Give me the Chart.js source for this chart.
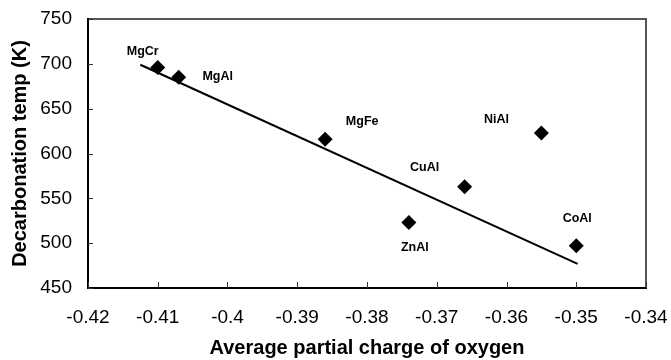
<!DOCTYPE html>
<html>
<head>
<meta charset="utf-8">
<script src="https://cdn.jsdelivr.net/npm/chart.js@4.4.0/dist/chart.umd.min.js"></script>
<style>
  html, body { margin: 0; padding: 0; background: #fff; }
  #wrap { width: 671px; height: 360px; }
</style>
</head>
<body>
<div id="wrap"><canvas id="chart"></canvas></div>
<script>
// catalyst names and values
const catalysts = ['MgCr', 'MgAl', 'MgFe', 'NiAl', 'CuAl', 'ZnAl', 'CoAl'];
const partialCharge = [-0.410, -0.407, -0.386, -0.355, -0.366, -0.374, -0.350];
const decarbTemp = [696, 685, 616, 623, 563, 523, 497];

// fitted line end points
const trendX = [-0.4125, -0.3498];
const trendY = [699, 477];

// label placement relative to each marker (pixels)
const labelOffsets = [[-15, -16], [39, -1], [37, -18], [-45, -13], [-40, -19], [6, 25], [1, -27]];

const fontFamily = '"Liberation Sans", Arial, sans-serif';

// grey frame behind the black axis lines
const framePlugin = {
    id: 'frame',
    beforeDraw(chart) {
        const { ctx, chartArea: a } = chart;
        ctx.save();
        ctx.strokeStyle = '#555';
        ctx.lineWidth = 2;
        ctx.strokeRect(a.left, a.top, a.right - a.left, a.bottom - a.top);
        ctx.restore();
    }
};

// small tick marks pointing into the plot
const innerTicks = {
    id: 'innerTicks',
    afterDraw(chart) {
        const { ctx, chartArea: a, scales } = chart;
        ctx.save();
        ctx.strokeStyle = '#333';
        ctx.lineWidth = 1;
        ctx.beginPath();
        scales.x.ticks.forEach(t => {
            const px = Math.round(scales.x.getPixelForValue(t.value)) + 0.5;
            ctx.moveTo(px, a.bottom);
            ctx.lineTo(px, a.bottom - 6);
        });
        scales.y.ticks.forEach(t => {
            const py = Math.round(scales.y.getPixelForValue(t.value)) + 0.5;
            ctx.moveTo(a.left, py);
            ctx.lineTo(a.left + 5, py);
        });
        ctx.stroke();
        ctx.restore();
    }
};

// catalyst names beside the markers
const pointLabels = {
    id: 'pointLabels',
    afterDatasetsDraw(chart) {
        const { ctx, scales } = chart;
        ctx.save();
        ctx.fillStyle = '#000';
        ctx.font = 'bold 12.5px ' + fontFamily;
        ctx.textAlign = 'center';
        ctx.textBaseline = 'middle';
        catalysts.forEach((name, i) => {
            const px = scales.x.getPixelForValue(partialCharge[i]);
            const py = scales.y.getPixelForValue(decarbTemp[i]);
            ctx.fillText(name, px + labelOffsets[i][0], py + labelOffsets[i][1]);
        });
        ctx.restore();
    }
};

new Chart(document.getElementById('chart'), {
    type: 'scatter',
    data: {
        datasets: [
            {
                type: 'line',
                data: trendX.map((x, i) => ({ x: x, y: trendY[i] })),
                borderColor: '#000',
                borderWidth: 2,
                pointRadius: 0,
                fill: false
            },
            {
                data: partialCharge.map((x, i) => ({ x: x, y: decarbTemp[i] })),
                pointStyle: 'rectRot',
                pointRadius: 7.5,
                backgroundColor: '#000',
                borderColor: '#000',
                borderWidth: 0
            }
        ]
    },
    plugins: [framePlugin, innerTicks, pointLabels],
    options: {
        responsive: true,
        maintainAspectRatio: false,
        animation: false,
        layout: { padding: { top: 19, right: 25, left: 0, bottom: 0 } },
        plugins: {
            legend: { display: false },
            tooltip: { enabled: false }
        },
        scales: {
            x: {
                type: 'linear',
                min: -0.42,
                max: -0.34,
                afterFit(scale) {
                    scale.height = 72;
                    scale.paddingLeft = 0;
                    scale.paddingRight = 0;
                },
                ticks: {
                    stepSize: 0.01,
                    color: '#000',
                    padding: 18,
                    maxRotation: 0,
                    font: { family: fontFamily, size: 19 },
                    callback: v => parseFloat(v.toFixed(2)).toString()
                },
                grid: { display: false, drawTicks: false },
                border: { display: true, color: '#000', width: 2 },
                title: {
                    display: true,
                    text: 'Average partial charge of oxygen',
                    color: '#000',
                    font: { family: fontFamily, size: 20, weight: 'bold' },
                    padding: { top: 0, bottom: 0 }
                }
            },
            y: {
                min: 450,
                max: 750,
                afterFit(scale) {
                    scale.width = 88;
                    scale.paddingTop = 0;
                    scale.paddingBottom = 0;
                },
                ticks: {
                    stepSize: 50,
                    color: '#000',
                    padding: 16,
                    font: { family: fontFamily, size: 19 }
                },
                grid: { display: false, drawTicks: false },
                border: { display: true, color: '#000', width: 2 },
                title: {
                    display: true,
                    text: 'Decarbonation temp (K)',
                    color: '#000',
                    font: { family: fontFamily, size: 20, weight: 'bold' },
                    padding: { top: 8, bottom: 0 }
                }
            }
        }
    }
});
</script>
</body>
</html>
